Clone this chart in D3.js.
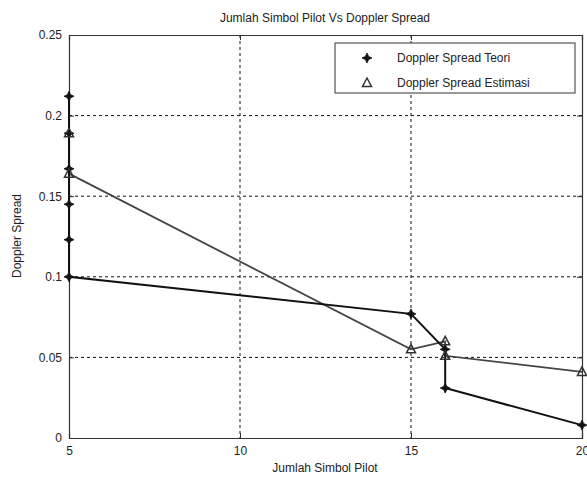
<!DOCTYPE html>
<html><head><meta charset="utf-8">
<script src="https://cdn.jsdelivr.net/npm/d3@7"></script>
<style>body{margin:0;background:#fff}svg{display:block}text{font-family:"Liberation Sans",Arial,sans-serif;fill:#222}</style>
</head><body><svg id="c" width="587" height="480"></svg>
<script>
const title = "Jumlah Simbol Pilot Vs Doppler Spread";
const xLabel = "Jumlah Simbol Pilot";
const yLabel = "Doppler Spread";
const xTicks = [5, 10, 15, 20];
const yTicks = [0, 0.05, 0.1, 0.15, 0.2, 0.25];
const yTickLabels = ["0", "0.05", "0.1", "0.15", "0.2", "0.25"];
const teoriX = [5, 5, 5, 5, 5, 5, 15, 16, 16, 20];
const teoriY = [0.212, 0.189, 0.167, 0.145, 0.123, 0.100, 0.077, 0.055, 0.031, 0.008];
const estX = [5, 5, 15, 16, 16, 20];
const estY = [0.189, 0.164, 0.055, 0.060, 0.051, 0.041];
const seriesNames = ["Doppler Spread Teori", "Doppler Spread Estimasi"];

const svg = d3.select("#c");
const m = {l: 69, r: 582, t: 35, b: 438};
const x = d3.scaleLinear().domain([5, 20]).range([m.l, m.r]);
const y = d3.scaleLinear().domain([0, 0.25]).range([m.b, m.t]);

// grid
const g = svg.append("g");
g.selectAll(".gx").data(xTicks.slice(1, -1)).enter().append("line")
  .attr("x1", d => x(d)).attr("x2", d => x(d)).attr("y1", m.t).attr("y2", m.b)
  .attr("stroke", "#111").attr("stroke-dasharray", "3,3").attr("stroke-width", 1);
g.selectAll(".gy").data(yTicks.slice(1, -1)).enter().append("line")
  .attr("y1", d => y(d)).attr("y2", d => y(d)).attr("x1", m.l).attr("x2", m.r)
  .attr("stroke", "#111").attr("stroke-dasharray", "3,3").attr("stroke-width", 1);

// axes
const xa = svg.append("g").attr("transform", `translate(0,${m.b})`)
  .call(d3.axisBottom(x).tickValues(xTicks).tickSize(-5).tickPadding(8).tickFormat(d3.format("d")));
const ya = svg.append("g").attr("transform", `translate(${m.l},0)`)
  .call(d3.axisLeft(y).tickValues(yTicks).tickSize(-5).tickPadding(7).tickFormat((d, i) => yTickLabels[i]));
svg.append("g").attr("transform", `translate(0,${m.t})`)
  .call(d3.axisTop(x).tickValues(xTicks).tickSize(-5).tickFormat(""));
svg.append("g").attr("transform", `translate(${m.r},0)`)
  .call(d3.axisRight(y).tickValues(yTicks).tickSize(-5).tickFormat(""));
svg.selectAll(".domain").attr("stroke", "#333").attr("stroke-width", 1.2);
svg.selectAll(".tick line").attr("stroke", "#333");
svg.selectAll(".tick text").attr("font-size", 12).attr("fill", "#222")
  .style("font-family", "'Liberation Sans',Arial,sans-serif");

// lines
const line = d3.line().x(d => x(d[0])).y(d => y(d[1]));
const tData = teoriX.map((v, i) => [v, teoriY[i]]);
const eData = estX.map((v, i) => [v, estY[i]]);
svg.append("path").datum(eData).attr("d", line).attr("fill", "none")
  .attr("stroke", "#444").attr("stroke-width", 1.8);
svg.append("path").datum(tData).attr("d", line).attr("fill", "none")
  .attr("stroke", "#111").attr("stroke-width", 2);

const star = "M0,-5 L1.6,-1.6 L5,0 L1.6,1.6 L0,5 L-1.6,1.6 L-5,0 L-1.6,-1.6 Z";
const tri = "M0,-5 L4.5,3.5 L-4.5,3.5 Z";
svg.selectAll(".tm").data(tData).enter().append("path")
  .attr("d", star).attr("transform", d => `translate(${x(d[0])},${y(d[1])})`)
  .attr("fill", "#111").attr("stroke", "#111").attr("stroke-width", 0.8);
svg.selectAll(".em").data(eData).enter().append("path")
  .attr("d", tri).attr("transform", d => `translate(${x(d[0])},${y(d[1])})`)
  .attr("fill", "none").attr("stroke", "#333").attr("stroke-width", 1.5);

// legend
const lg = svg.append("g");
lg.append("rect").attr("x", 335).attr("y", 43).attr("width", 240).attr("height", 50)
  .attr("fill", "#fff").attr("stroke", "#333").attr("stroke-width", 1);
lg.append("path").attr("d", star).attr("transform", "translate(367,58)").attr("fill", "#111").attr("stroke", "#111").attr("stroke-width", 0.8);
lg.append("path").attr("d", tri).attr("transform", "translate(367,83)").attr("fill", "none").attr("stroke", "#333").attr("stroke-width", 1.5);
lg.append("text").attr("x", 397).attr("y", 62).attr("font-size", 12).text(seriesNames[0]);
lg.append("text").attr("x", 397).attr("y", 87).attr("font-size", 12).text(seriesNames[1]);

// titles
svg.append("text").attr("x", 325).attr("y", 22).attr("text-anchor", "middle").attr("font-size", 12).text(title);
svg.append("text").attr("x", 325).attr("y", 472).attr("text-anchor", "middle").attr("font-size", 12).text(xLabel);
svg.append("text").attr("transform", "translate(21,236) rotate(-90)").attr("text-anchor", "middle").attr("font-size", 12).text(yLabel);
</script></body></html>
